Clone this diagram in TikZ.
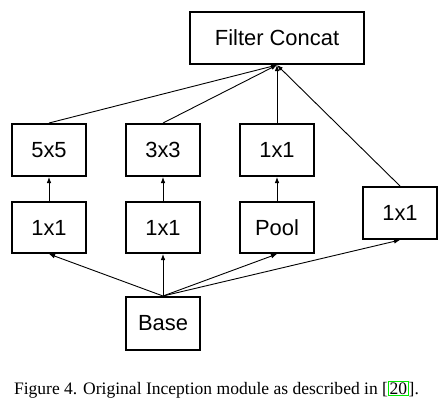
\documentclass[tikz,border=0pt]{standalone}
\usepackage{fontspec}
\setmainfont{Liberation Serif}
\newfontfamily\arialfont{Liberation Sans}
\usetikzlibrary{arrows.meta}
\definecolor{linkgreen}{RGB}{0,235,0}
\begin{document}
\begin{tikzpicture}[x=1bp,y=-1bp,
  blk/.style={draw=black,line width=2bp,minimum width=74bp,minimum height=52bp,inner sep=0pt,
    font=\arialfont\fontsize{22}{24}\selectfont},
  conn/.style={line width=0.9bp,-{Latex[length=6bp,width=4.6bp]}}]
\useasboundingbox (0,0) rectangle (446,405);
\node[blk,minimum width=174bp] (fc) at (277,38) {Filter Concat};
\node[blk] (a1) at (49,150) {5x5};
\node[blk] (b1) at (163,150) {3x3};
\node[blk] (c1) at (277,150) {1x1};
\node[blk,minimum height=51bp] (a2) at (49,227.5) {1x1};
\node[blk,minimum height=51bp] (b2) at (163,227.5) {1x1};
\node[blk,minimum height=51bp] (c2) at (277,227.5) {Pool};
\node[blk] (d) at (400,213) {1x1};
\node[blk,minimum height=53bp] (base) at (163,323.5) {Base};
\draw[conn] (a1.north) -- (fc.south);
\draw[conn] (b1.north) -- (fc.south);
\draw[conn] (c1.north) -- (fc.south);
\draw[conn] (d.north) -- (fc.south);
\draw[conn] (a2.north) -- (a1.south);
\draw[conn] (b2.north) -- (b1.south);
\draw[conn] (c2.north) -- (c1.south);
\draw[conn] (base.north) -- (a2.south);
\draw[conn] (base.north) -- (b2.south);
\draw[conn] (base.north) -- (c2.south);
\draw[conn] (base.north) -- (d.south);
\node[anchor=base,inner sep=0pt,font=\fontsize{17.6}{20}\selectfont] (cap) at (216.5,394)
  {Figure 4. Original Inception module as described in [{\fboxsep=0.4pt\fboxrule=1.2pt\color{linkgreen}\fbox{\color{black}20}}].};
\end{tikzpicture}
\end{document}
